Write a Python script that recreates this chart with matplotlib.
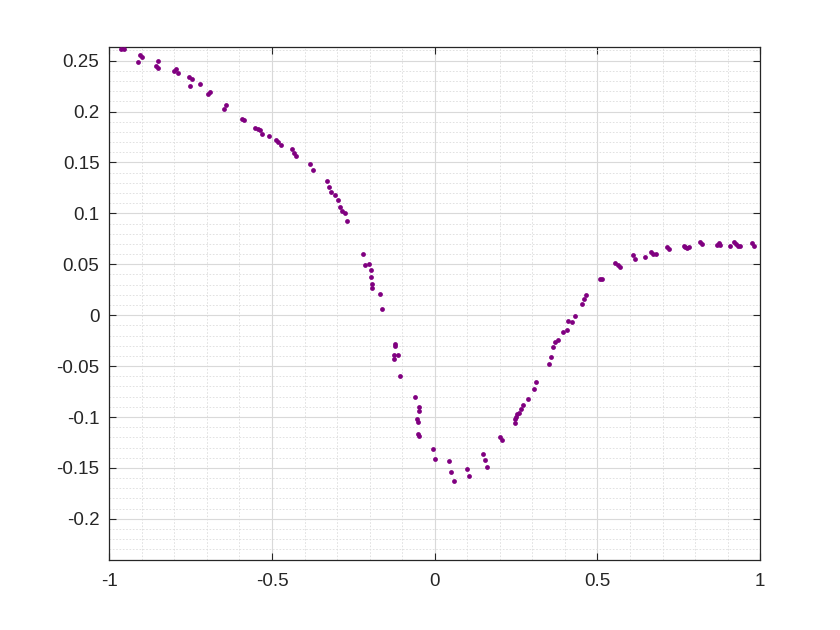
import numpy as np
import matplotlib
matplotlib.use("Agg")
import matplotlib.pyplot as plt
from matplotlib.ticker import MultipleLocator, FormatStrFormatter

plt.rcParams['font.family'] = ['Liberation Sans', 'DejaVu Sans']

# sample points
x = [-0.963, -0.954, -0.911, -0.905, -0.899, -0.855, -0.850, -0.851, -0.800, -0.795,
     -0.789, -0.755, -0.746, -0.752, -0.721, -0.696, -0.690, -0.646, -0.641, -0.591,
     -0.585, -0.552, -0.544, -0.538, -0.530, -0.509, -0.487, -0.481, -0.473, -0.437,
     -0.432, -0.426, -0.382, -0.375, -0.332, -0.326, -0.320, -0.306, -0.298, -0.291,
     -0.285, -0.276, -0.270, -0.221, -0.213, -0.202, -0.197, -0.195, -0.192, -0.192,
     -0.169, -0.163, -0.122, -0.122, -0.125, -0.112, -0.125, -0.106, -0.062, -0.047,
     -0.048, -0.055, -0.051, -0.051, -0.048, -0.004, 0.001, 0.044, 0.050, 0.058,
     0.099, 0.106, 0.149, 0.154, 0.160, 0.202, 0.207, 0.246, 0.248, 0.251,
     0.254, 0.259, 0.265, 0.272, 0.286, 0.304, 0.310, 0.352, 0.357, 0.363,
     0.370, 0.378, 0.394, 0.406, 0.410, 0.421, 0.432, 0.453, 0.458, 0.465,
     0.508, 0.514, 0.555, 0.562, 0.568, 0.610, 0.616, 0.646, 0.665, 0.670,
     0.679, 0.714, 0.720, 0.765, 0.768, 0.775, 0.782, 0.816, 0.822, 0.868,
     0.873, 0.878, 0.906, 0.920, 0.926, 0.931, 0.939, 0.975, 0.982]
y = [0.261, 0.261, 0.249, 0.256, 0.254, 0.245, 0.250, 0.243, 0.240, 0.242,
     0.238, 0.234, 0.232, 0.225, 0.227, 0.217, 0.219, 0.203, 0.206, 0.193,
     0.192, 0.184, 0.183, 0.182, 0.178, 0.176, 0.172, 0.170, 0.167, 0.163,
     0.159, 0.156, 0.149, 0.143, 0.132, 0.126, 0.121, 0.118, 0.113, 0.106,
     0.102, 0.100, 0.093, 0.060, 0.049, 0.050, 0.044, 0.038, 0.031, 0.027,
     0.021, 0.006, -0.028, -0.030, -0.039, -0.039, -0.043, -0.060, -0.080, -0.090,
     -0.094, -0.102, -0.105, -0.117, -0.119, -0.131, -0.141, -0.143, -0.154, -0.163,
     -0.151, -0.158, -0.136, -0.142, -0.149, -0.120, -0.123, -0.106, -0.102, -0.100,
     -0.097, -0.096, -0.092, -0.088, -0.082, -0.072, -0.066, -0.048, -0.041, -0.031,
     -0.026, -0.024, -0.016, -0.015, -0.006, -0.007, -0.001, 0.011, 0.016, 0.020,
     0.036, 0.036, 0.051, 0.049, 0.047, 0.059, 0.055, 0.057, 0.062, 0.060,
     0.060, 0.067, 0.065, 0.068, 0.067, 0.066, 0.067, 0.072, 0.070, 0.069,
     0.071, 0.069, 0.068, 0.072, 0.070, 0.068, 0.068, 0.071, 0.068]

fig = plt.figure(figsize=(8.4, 6.3), dpi=100)
ax = fig.add_axes([0.13, 0.111, 0.775, 0.8145])

ax.scatter(x, y, s=12, color='#800080', linewidths=0, zorder=3)

ax.set_xlim(-1, 1)
ax.set_ylim(-0.2405, 0.2635)
ax.xaxis.set_major_locator(MultipleLocator(0.5))
ax.xaxis.set_minor_locator(MultipleLocator(0.1))
ax.yaxis.set_major_locator(MultipleLocator(0.05))
ax.yaxis.set_minor_locator(MultipleLocator(0.01))
ax.xaxis.set_major_formatter(plt.FuncFormatter(lambda v, p: f"{v:g}"))
ax.yaxis.set_major_formatter(plt.FuncFormatter(lambda v, p: f"{round(v, 3):g}"))

ax.grid(which='major', color='#d9d9d9', linewidth=0.8, zorder=0)
ax.grid(which='minor', color='#dcdcdc', linestyle=(0, (2, 2)), linewidth=0.6, zorder=0)
ax.set_axisbelow(True)

ax.tick_params(which='major', direction='in', length=5, width=0.8, colors='#262626',
               labelsize=13.5, top=True, right=True, pad=7)
ax.tick_params(axis='x', which='major', pad=9)
ax.tick_params(which='minor', length=0)
for s in ax.spines.values():
    s.set_color('#262626')
    s.set_linewidth(0.9)

fig.savefig('out.png', dpi=100)
